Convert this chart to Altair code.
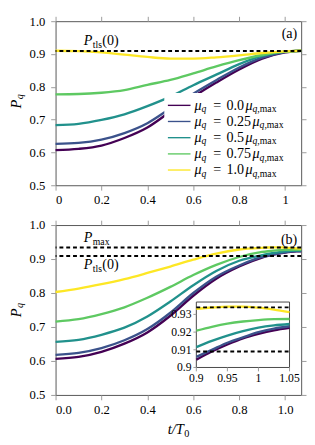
import altair as alt
import pandas as pd

FONT = "Liberation Serif"

# ---------------- data ----------------
MU = ["0.0", "0.25", "0.5", "0.75", "1.0"]
COLORS = ["#440154", "#3b528b", "#21918c", "#5ec962", "#fde725"]

P_TLS = 0.909
P_MAX = 0.934

# panel (a)
T_A = [0, 0.1, 0.2, 0.3, 0.4, 0.5, 0.6, 0.7, 0.8, 0.9, 1.0, 1.07]
PA_00 = [0.607, 0.611, 0.621, 0.644, 0.676, 0.724, 0.770, 0.813, 0.853, 0.886, 0.905, 0.910]
PA_25 = [0.626, 0.629, 0.639, 0.659, 0.689, 0.734, 0.779, 0.820, 0.859, 0.889, 0.906, 0.910]
PA_50 = [0.683, 0.687, 0.699, 0.716, 0.741, 0.770, 0.805, 0.837, 0.869, 0.894, 0.907, 0.910]
PA_75 = [0.777, 0.778, 0.782, 0.790, 0.806, 0.821, 0.841, 0.862, 0.881, 0.897, 0.907, 0.910]
PA_100 = [0.910, 0.909, 0.905, 0.898, 0.891, 0.886, 0.886, 0.890, 0.896, 0.903, 0.908, 0.910]

# panel (b)
T_B = [0, 0.1, 0.2, 0.3, 0.4, 0.5, 0.6, 0.7, 0.8, 0.9, 0.925, 0.95, 0.975, 1.0, 1.025, 1.05, 1.07]
PB_00 = [0.606, 0.612, 0.627, 0.651, 0.684, 0.733, 0.792, 0.842, 0.878, 0.9044, 0.909, 0.913, 0.9165, 0.919, 0.921, 0.9224, 0.923]
PB_25 = [0.618, 0.624, 0.638, 0.661, 0.694, 0.742, 0.800, 0.848, 0.881, 0.906, 0.910, 0.914, 0.917, 0.920, 0.922, 0.9233, 0.9237]
PB_50 = [0.656, 0.662, 0.677, 0.698, 0.731, 0.775, 0.823, 0.865, 0.895, 0.9115, 0.915, 0.918, 0.9205, 0.9225, 0.9238, 0.9246, 0.9249]
PB_75 = [0.716, 0.723, 0.738, 0.758, 0.786, 0.818, 0.853, 0.883, 0.906, 0.9208, 0.923, 0.9248, 0.926, 0.9268, 0.9273, 0.9274, 0.9274]
PB_100 = [0.803, 0.813, 0.826, 0.841, 0.859, 0.878, 0.898, 0.916, 0.928, 0.9331, 0.9339, 0.9344, 0.9344, 0.9338, 0.9327, 0.9313, 0.9305]

X_TICKS = [0, 0.2, 0.4, 0.6, 0.8, 1]
Y_TICKS = [0.5, 0.6, 0.7, 0.8, 0.9, 1.0]
X_DOMAIN = [0, 1.07]
Y_DOMAIN = [0.5, 1.0]
INSET_X_TICKS = [0.9, 0.95, 1, 1.05]
INSET_Y_TICKS = [0.9, 0.91, 0.92, 0.93]
INSET_X_DOMAIN = [0.9, 1.05]
INSET_Y_DOMAIN = [0.9, 0.937]


def long_df(t, series):
    rows = []
    for mu, vals in zip(MU, series):
        for tt, v in zip(t, vals):
            rows.append({"t": tt, "P": v, "mu": mu})
    return pd.DataFrame(rows)


df_a = long_df(T_A, [PA_00, PA_25, PA_50, PA_75, PA_100])
df_b = long_df(T_B, [PB_00, PB_25, PB_50, PB_75, PB_100])
df_inset = df_b[(df_b["t"] >= 0.9) & (df_b["t"] <= 1.05)]

# ---------------- layout ----------------
W = 253
H_A = 169
H_B = 175


def py(v, h):
    return (1 - (v - Y_DOMAIN[0]) / (Y_DOMAIN[1] - Y_DOMAIN[0])) * h


def px(t):
    return (t - X_DOMAIN[0]) / (X_DOMAIN[1] - X_DOMAIN[0]) * W


W_ROMAN = {".": 0.25, ",": 0.25, "(": 0.333, ")": 0.333, "=": 0.564, " ": 0.25,
           "m": 0.778, "a": 0.444, "x": 0.5, "t": 0.278, "l": 0.278, "s": 0.389}
W_ITAL = {"P": 0.611, "q": 0.5, "t": 0.278, "T": 0.556, "/": 0.278, "μ": 0.5}


def tw(s, size, italic=False):
    tab = W_ITAL if italic else W_ROMAN
    return sum(tab.get(c, 0.5) for c in s) * size


def piece(txt, x, y, size, italic=False, angle=0, align="left"):
    props = dict(align=align, baseline="alphabetic", fontSize=size, font=FONT, color="black")
    if italic:
        props["fontStyle"] = "italic"
    if angle:
        props["angle"] = angle
    return alt.Chart(pd.DataFrame({"s": [txt]})).mark_text(**props).encode(
        x=alt.value(x), y=alt.value(y), text="s:N")


def rich(parts, x, y):
    out = []
    pos = x
    for txt, size, ital, dy, gap in parts:
        out.append(piece(txt, pos, y + dy, size, ital))
        pos += tw(txt, size, ital) + gap
    return out


def rich_vertical(parts, x, y):
    out = []
    pos = y
    for txt, size, ital, dx in parts:
        out.append(piece(txt, x + dx, pos, size, ital, angle=270))
        pos -= tw(txt, size, ital) + 0.5
    return out


def ytitle(y):
    return rich_vertical([("P", 15, True, 0), ("q", 10.5, True, 2.8)], -36, y)


X_ANN = px(0.1226)


def ptls(y):
    return rich([("P", 14.5, True, 0, 0.5), ("tls", 10, False, 3, 0.3), ("(0)", 14.5, False, 0, 0)], X_ANN, y)


def pmax(y):
    return rich([("P", 14.5, True, 0, 0.5), ("max", 10, False, 3, 0)], X_ANN, y)


def axis(vals, fmt, orient, labels=True, pad=5):
    return alt.Axis(values=vals, format=fmt, orient=orient, labels=labels, title=None,
                    grid=False, domain=False, ticks=True, tickSize=5, tickColor="#9a9a9a",
                    labelFont=FONT, labelFontSize=13, labelColor="black", labelPadding=pad)


x_scale = alt.Scale(domain=X_DOMAIN, nice=False, zero=False)
y_scale = alt.Scale(domain=Y_DOMAIN, nice=False, zero=False)
color_scale = alt.Scale(domain=MU, range=COLORS)


def main_group(df, xfmt, rules_vals, texts):
    lines = alt.Chart(df).mark_line(strokeWidth=2.4, interpolate="monotone").encode(
        x=alt.X("t:Q", scale=x_scale, axis=axis(X_TICKS, xfmt, "bottom", pad=4)),
        y=alt.Y("P:Q", scale=y_scale, axis=axis(Y_TICKS, ".1f", "left", pad=6)),
        color=alt.Color("mu:N", scale=color_scale, legend=None),
        detail="mu:N",
    )
    mirror = alt.Chart(df).mark_point(opacity=0).encode(
        x=alt.X("t:Q", scale=x_scale, axis=axis(X_TICKS, xfmt, "top", labels=False)),
        y=alt.Y("P:Q", scale=y_scale, axis=axis(Y_TICKS, ".1f", "right", labels=False)),
    )
    rules = alt.Chart(pd.DataFrame({"P": rules_vals})).mark_rule(
        color="black", strokeDash=[4, 3], strokeWidth=2).encode(
        y=alt.Y("P:Q", scale=y_scale, axis=None))
    return alt.layer(lines, rules, mirror, *texts).resolve_axis(x="independent", y="independent")


# ---------------- legend (panel a) ----------------
LG = 14.5   # legend main font size
LS = 10     # legend subscript font size
legend_layers = [
    alt.Chart(pd.DataFrame({"a": [0]})).mark_rect(fill="white").encode(
        x=alt.value(112), x2=alt.value(244), y=alt.value(74), y2=alt.value(165))
]
row_sym_y = [86.7, 103.3, 120.0, 136.7, 153.3]
for mu, col, sy in zip(MU, COLORS, row_sym_y):
    legend_layers.append(
        alt.Chart(pd.DataFrame({"a": [0]})).mark_rule(color=col, strokeWidth=1.4).encode(
            x=alt.value(115.7), x2=alt.value(139), y=alt.value(sy)))
    base = sy + 4.4
    legend_layers += rich([("μ", LG, True, 0, 0), ("q", LS, True, 2.5, 0)], 143, base)
    legend_layers.append(piece("=", 162.5, base, LG))
    legend_layers += rich([(mu, LG, False, 0, 1.5), ("μ", LG, True, 0, 0), ("q", LS, True, 2.5, 0),
                           (",max", LS, False, 2.5, 0)], 176, base)

texts_a = legend_layers + ptls(py(P_TLS, H_A) - 6) + ytitle(90) + [piece("(a)", W - 4, 17, 14.5, align="right")]

top = main_group(df_a, "~g", [P_TLS], texts_a).properties(width=W, height=H_A)

# ---------------- panel b ----------------
x_title = rich([("t/T", 15, True, 0, 0.3), ("0", 10.5, False, 3, 0)], W / 2 - 11, H_B + 40)
texts_b = (pmax(py(P_MAX, H_B) - 6) + ptls(py(P_TLS, H_B) + 13) + ytitle(95) + x_title
           + [piece("(b)", W - 4, 19, 14.5, align="right")])
main_b = main_group(df_b, ".1f", [P_MAX, P_TLS], texts_b)

IN_L, IN_R, IN_T, IN_B = 145.0, 241.0, 79.3, 146.7
ix = alt.Scale(domain=INSET_X_DOMAIN, range=[IN_L, IN_R], nice=False, zero=False)
iy = alt.Scale(domain=INSET_Y_DOMAIN, range=[IN_B, IN_T], nice=False, zero=False)

inset_box = alt.Chart(pd.DataFrame({"x": [INSET_X_DOMAIN[0]], "x2": [INSET_X_DOMAIN[1]],
                                    "y": [INSET_Y_DOMAIN[0]], "y2": [INSET_Y_DOMAIN[1]]})).mark_rect(
    fill="white", stroke="#444", strokeWidth=1).encode(
    x=alt.X("x:Q", scale=ix, axis=None), x2="x2",
    y=alt.Y("y:Q", scale=iy, axis=None), y2="y2",
)
inset_lines = alt.Chart(df_inset).mark_line(strokeWidth=2.4, interpolate="monotone").encode(
    x=alt.X("t:Q", scale=ix, axis=None),
    y=alt.Y("P:Q", scale=iy, axis=None),
    color=alt.Color("mu:N", scale=color_scale, legend=None),
    detail="mu:N",
)
inset_rules = alt.Chart(pd.DataFrame({"P": [P_MAX, P_TLS], "x": [INSET_X_DOMAIN[0]] * 2,
                                      "x2": [INSET_X_DOMAIN[1]] * 2})).mark_rule(
    color="black", strokeDash=[4, 3], strokeWidth=2).encode(
    x=alt.X("x:Q", scale=ix, axis=None), x2="x2",
    y=alt.Y("P:Q", scale=iy, axis=None))

ixt = pd.DataFrame({"v": INSET_X_TICKS})
iyt = pd.DataFrame({"v": INSET_Y_TICKS})
inset_xticks = alt.Chart(ixt).mark_rule(color="#9a9a9a", strokeWidth=1).encode(
    x=alt.X("v:Q", scale=ix, axis=None), y=alt.value(IN_B), y2=alt.value(IN_B + 4))
inset_xlabels = alt.Chart(ixt).mark_text(font=FONT, fontSize=12, baseline="top", color="black").encode(
    x=alt.X("v:Q", scale=ix, axis=None), y=alt.value(IN_B + 6), text=alt.Text("v:Q", format="~g"))
inset_yticks = alt.Chart(iyt).mark_rule(color="#9a9a9a", strokeWidth=1).encode(
    y=alt.Y("v:Q", scale=iy, axis=None), x=alt.value(IN_L - 3), x2=alt.value(IN_L))
inset_ylabels = alt.Chart(iyt).mark_text(font=FONT, fontSize=12, baseline="middle", align="right",
                                         color="black").encode(
    y=alt.Y("v:Q", scale=iy, axis=None), x=alt.value(IN_L - 5), text=alt.Text("v:Q", format="~g"))

inset = alt.layer(inset_box, inset_lines, inset_rules, inset_xticks, inset_xlabels, inset_yticks, inset_ylabels)

bottom = alt.layer(main_b, inset).resolve_scale(x="independent", y="independent").properties(width=W, height=H_B)

chart = alt.vconcat(top, bottom, spacing=11).properties(
    padding={"left": 0, "top": 0, "right": 0, "bottom": 0}, background="white"
).configure_view(stroke="#555", strokeWidth=1)

chart.save("out.html", embed_options={"renderer": "svg", "actions": False})
